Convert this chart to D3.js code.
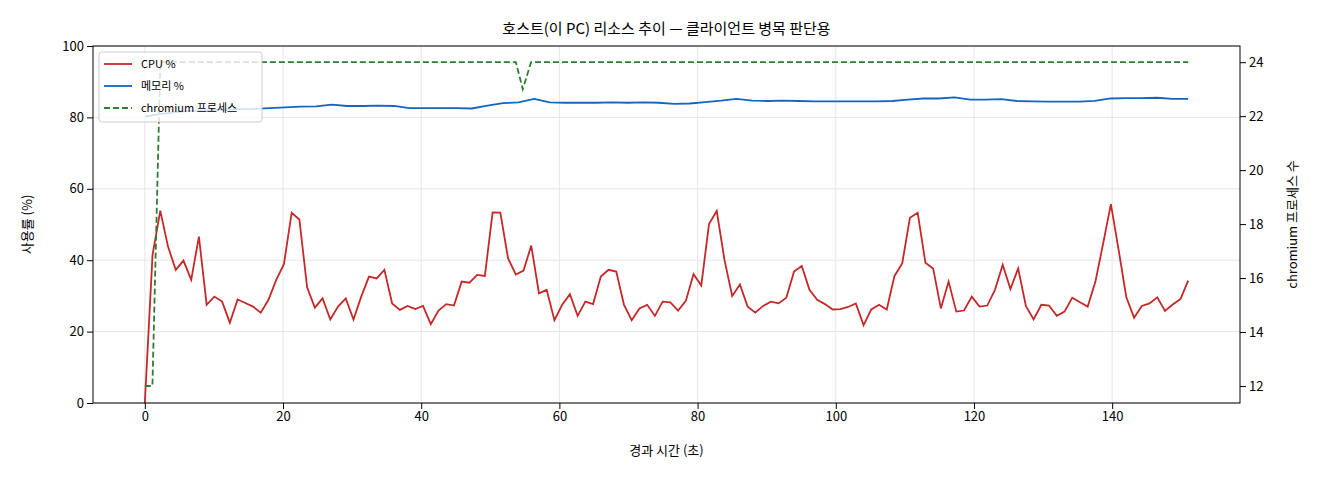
<!DOCTYPE html><html><head><meta charset="utf-8">
<script src="https://cdn.jsdelivr.net/npm/d3@7"></script>
<style>body{margin:0;background:#fff}text{font-family:"Noto Sans CJK KR","Noto Sans",sans-serif}</style></head><body>
<svg id="c" width="1320" height="480"></svg>
<script>
const endTime = 151;
const cpu = [0,41.5,53.9,43.8,37.3,39.9,34.5,46.6,27.5,29.8,28.4,22.5,29.0,28.0,27.0,25.3,28.9,34.5,38.9,53.3,51.4,32.4,26.7,29.3,23.4,27.0,29.3,23.4,29.8,35.4,34.9,37.3,27.9,26.1,27.2,26.3,27.2,22.1,25.9,27.7,27.3,34.0,33.7,35.9,35.6,53.4,53.3,
40.5,36.0,37.1,44.1,30.7,31.7,23.2,27.5,30.5,24.4,28.4,27.7,35.4,37.3,36.8,27.5,23.2,26.5,27.5,24.4,28.4,28.2,25.9,28.6,36.1,32.9,50.1,53.8,40.1,30.0,33.2,27.0,25.3,27.2,28.4,27.9,29.5,36.8,38.4,31.7,28.9,27.7,26.2,26.3,26.9,
27.9,21.8,26.2,27.5,26.2,35.6,39.1,51.9,53.3,39.3,37.7,26.5,34.0,25.6,25.9,29.8,27.0,27.3,31.7,38.7,31.9,37.7,27.2,23.4,27.5,27.3,24.4,25.6,29.5,28.2,27.0,34.0,44.7,55.7,42.9,29.6,23.9,27.2,27.9,29.6,25.8,27.6,29.1,34.3];
const mem = [80.2,81,81.5,81.8,82,82.2,82.3,82.4,82.6,82.8,83,83.1,83.6,83.2,83.2,83.3,83.2,82.6,82.6,82.6,82.6,82.5,83.3,84,84.2,85.2,84.2,84.1,84.1,84.1,84.2,84.1,84.2,84.1,83.8,83.9,84.3,84.7,85.2,84.7,84.6,84.7,84.6,84.5,84.5,84.5,84.5,84.5,84.6,85,85.3,85.3,85.6,85,85,85.1,84.6,84.5,84.4,84.4,84.4,84.6,85.3,85.4,85.4,85.5,85.2,85.2];
const procT = [0,1.1,2.25,53.7,54.7,55.9,151];
const procN = [12,12,24,24,23,24,24];
const xTicks = [0,20,40,60,80,100,120,140];
const yTicks = [0,20,40,60,80,100];
const y2Ticks = [12,14,16,18,20,22,24];

const svg = d3.select("#c");
const L=93,R=1240,T=46,B=403;
const x = d3.scaleLinear().domain([-7.5,158.5]).range([L,R]);
const y = d3.scaleLinear().domain([0,100]).range([B,T]);
const y2 = d3.scaleLinear().domain([11.37,24.6]).range([B,T]);
const g = svg.append("g");
g.selectAll(".gx").data(xTicks).join("line").attr("x1",d=>x(d)).attr("x2",d=>x(d)).attr("y1",T).attr("y2",B).attr("stroke","#e6e6e6");
g.selectAll(".gy").data(yTicks).join("line").attr("y1",d=>y(d)).attr("y2",d=>y(d)).attr("x1",L).attr("x2",R).attr("stroke","#e6e6e6");
const stepC = endTime/(cpu.length-1), stepM = endTime/(mem.length-1);
const line = d3.line().x(d=>x(d[0])).y(d=>d[2](d[1]));
g.append("path").attr("d",line(mem.map((v,i)=>[i*stepM,v,y]))).attr("fill","none").attr("stroke","#1565c0").attr("stroke-width",1.8);
g.append("path").attr("d",line(cpu.map((v,i)=>[i*stepC,v,y]))).attr("fill","none").attr("stroke","#c62828").attr("stroke-width",1.8);
g.append("path").attr("d",line(procT.map((t,i)=>[t,procN[i],y2]))).attr("fill","none").attr("stroke","#2e7d32").attr("stroke-width",1.8).attr("stroke-dasharray","6,3");
svg.append("rect").attr("x",L).attr("y",T).attr("width",R-L).attr("height",B-T).attr("fill","none").attr("stroke","#000").attr("stroke-width",1);
const fs="13px";
svg.append("g").attr("transform",`translate(0,${B})`).call(d3.axisBottom(x).tickValues(xTicks).tickSizeOuter(0)).call(a=>{a.select(".domain").remove();a.selectAll("text").style("font-size",fs).attr("fill","#000")});
svg.append("g").attr("transform",`translate(${L},0)`).call(d3.axisLeft(y).tickValues(yTicks).tickSizeOuter(0)).call(a=>{a.select(".domain").remove();a.selectAll("text").style("font-size",fs).attr("fill","#000")});
svg.append("g").attr("transform",`translate(${R},0)`).call(d3.axisRight(y2).tickValues(y2Ticks).tickSizeOuter(0)).call(a=>{a.select(".domain").remove();a.selectAll("text").style("font-size",fs).attr("fill","#000")});
svg.append("text").attr("x",(L+R)/2).attr("y",34).attr("text-anchor","middle").style("font-size","15px").text("호스트(이 PC) 리소스 추이 — 클라이언트 병목 판단용");
svg.append("text").attr("x",(L+R)/2).attr("y",455).attr("text-anchor","middle").style("font-size","13px").text("경과 시간 (초)");
svg.append("text").attr("transform",`translate(32,${(T+B)/2}) rotate(-90)`).attr("text-anchor","middle").style("font-size","13px").text("사용률 (%)");
svg.append("text").attr("transform",`translate(1297,${(T+B)/2}) rotate(-90)`).attr("text-anchor","middle").style("font-size","13px").text("chromium 프로세스 수");
const lg = svg.append("g").attr("transform","translate(99,52)");
lg.append("rect").attr("width",163).attr("height",70).attr("rx",3).attr("fill","rgba(255,255,255,0.8)").attr("stroke","#ccc");
const items=[["CPU %","#c62828",null],["메모리 %","#1565c0",null],["chromium 프로세스","#2e7d32","6,3"]];
items.forEach((it,i)=>{const yy=12+i*22;
lg.append("line").attr("x1",5).attr("x2",33).attr("y1",yy).attr("y2",yy).attr("stroke",it[1]).attr("stroke-width",1.8).attr("stroke-dasharray",it[2]);
lg.append("text").attr("x",42).attr("y",yy+4).style("font-size","11px").text(it[0]);});
</script></body></html>
